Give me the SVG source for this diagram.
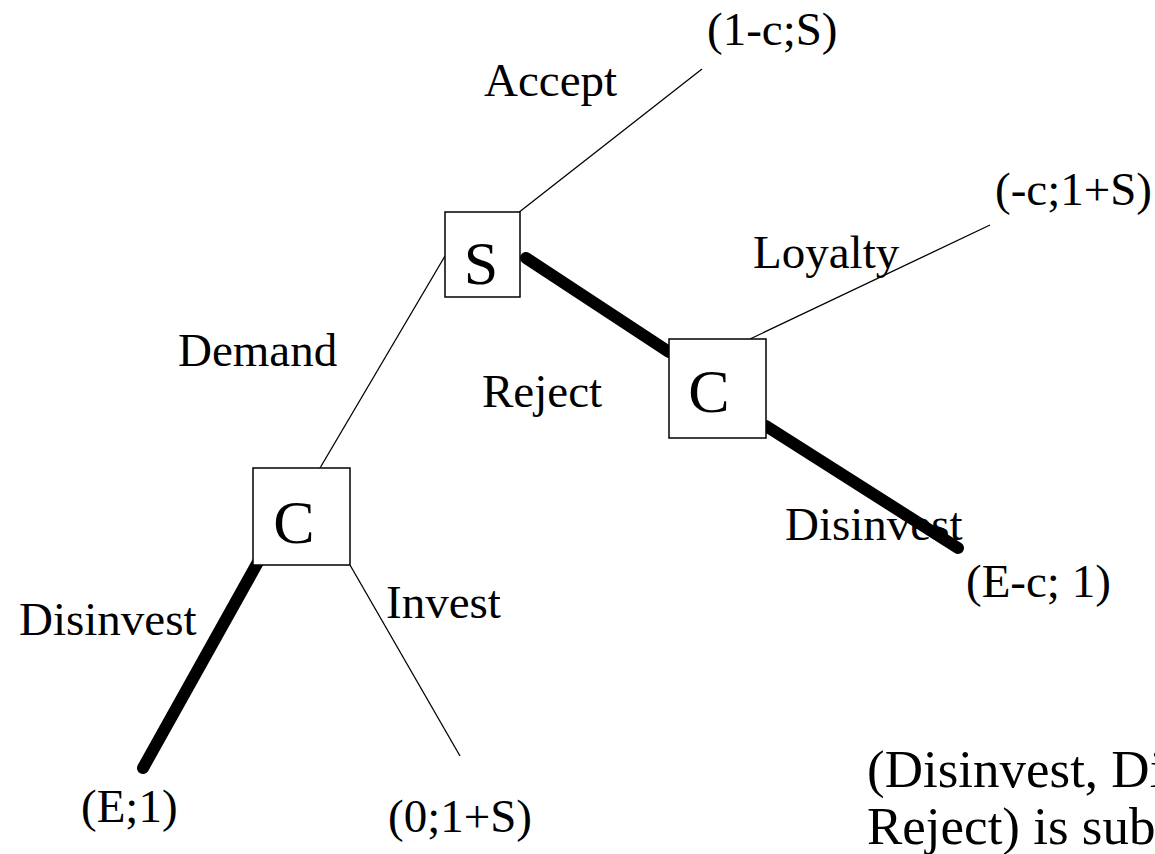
<svg xmlns="http://www.w3.org/2000/svg" width="1155" height="854" viewBox="0 0 1155 854">
<style>
.box{fill:#fff;stroke:#000;stroke-width:1.5}
.thin{stroke:#000;stroke-width:1.3;fill:none}
.thick{stroke:#000;stroke-width:12;stroke-linecap:round;fill:none}
text{font-family:'Liberation Serif','Times New Roman','DejaVu Serif',serif;fill:#000}
.lbl{font-size:47px}
.node{font-size:62px;text-anchor:middle}
.note{font-size:53px}
</style>
<rect width="1155" height="854" fill="#fff"/>
<g id="connectors">
<line class="thin" x1="518" y1="213" x2="702" y2="69"/>
<line class="thin" x1="320" y1="468" x2="445" y2="256"/>
<line class="thick" x1="526" y1="258" x2="669" y2="352"/>
<line class="thin" x1="750" y1="339" x2="990" y2="225"/>
<line class="thick" x1="766" y1="426" x2="958" y2="548"/>
<line class="thick" x1="258" y1="562" x2="143" y2="768"/>
<line class="thin" x1="350" y1="565" x2="460" y2="756"/>
</g>
<g id="node-S">
<rect class="box" x="445" y="212" width="75" height="85"/>
<text class="node" x="481" y="284">S</text>
</g>
<g id="node-C1">
<rect class="box" x="669" y="339" width="97" height="99"/>
<text class="node" x="709" y="412">C</text>
</g>
<g id="node-C2">
<rect class="box" x="253" y="468" width="97" height="97"/>
<text class="node" x="294" y="543">C</text>
</g>
<g id="labels">
<text class="lbl" x="707" y="45">(1-c;S)</text>
<text class="lbl" x="484" y="96">Accept</text>
<text class="lbl" x="995" y="205">(-c;1+S)</text>
<text class="lbl" x="753" y="268">Loyalty</text>
<text class="lbl" x="178" y="366">Demand</text>
<text class="lbl" x="482" y="407">Reject</text>
<text class="lbl" x="785" y="540">Disinvest</text>
<text class="lbl" x="966" y="597">(E-c; 1)</text>
<text class="lbl" x="19" y="635">Disinvest</text>
<text class="lbl" x="386" y="618">Invest</text>
<text class="lbl" x="81" y="822">(E;1)</text>
<text class="lbl" x="388" y="832">(0;1+S)</text>
<text class="note" x="867" y="787">(Disinvest, Di</text>
<text class="note" x="867" y="844">Reject) is sub</text>
</g>
</svg>
